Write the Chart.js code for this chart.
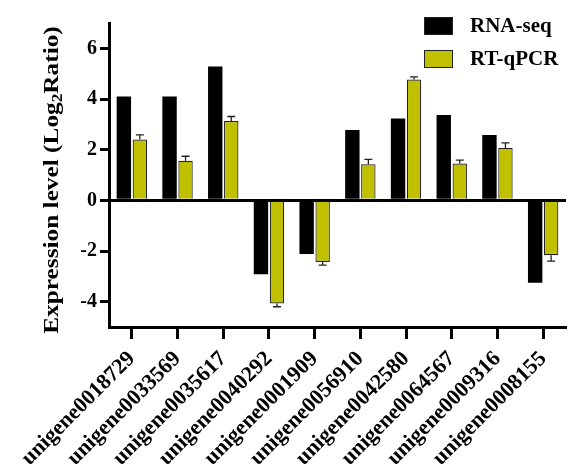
<!DOCTYPE html>
<html>
<head>
<meta charset="utf-8">
<script src="https://cdn.jsdelivr.net/npm/chart.js@4.4.0/dist/chart.umd.min.js"></script>
<style>
  html, body { margin: 0; padding: 0; background: #fff; }
  #wrap { width: 569px; height: 475px; position: relative; }
</style>
</head>
<body>
<div id="wrap"><canvas id="chart" width="569" height="475"></canvas></div>
<script>
'use strict';

var genes = ['unigene0018729', 'unigene0033569', 'unigene0035617', 'unigene0040292', 'unigene0001909',
             'unigene0056910', 'unigene0042580', 'unigene0064567', 'unigene0009316', 'unigene0008155'];
var rnaSeq = [4.1, 4.1, 5.28, -2.92, -2.12, 2.78, 3.23, 3.37, 2.58, -3.25];
var rtqPCR = [2.4, 1.56, 3.13, -4.07, -2.43, 1.42, 4.77, 1.45, 2.07, -2.17];
var rtqPCRErr = [0.18, 0.18, 0.18, 0.13, 0.13, 0.2, 0.1, 0.14, 0.2, 0.23];
var yTicks = [-4, -2, 0, 2, 4, 6];

var serif = "'Liberation Serif', 'Times New Roman', serif";
var olive = '#c0bf00';

// one sided error bars, pointing away from zero
var errorBars = {
    id: 'errorBars',
    afterDatasetsDraw: function(chart) {
        var ctx = chart.ctx,
            y = chart.scales.y,
            meta = chart.getDatasetMeta(1);
        ctx.save();
        ctx.strokeStyle = '#222';
        ctx.lineWidth = 1.3;
        meta.data.forEach(function(bar, i) {
            var v = rtqPCR[i],
                end = v + (v < 0 ? -rtqPCRErr[i] : rtqPCRErr[i]),
                y0 = y.getPixelForValue(v),
                y1 = y.getPixelForValue(end);
            ctx.beginPath();
            ctx.moveTo(bar.x, y0);
            ctx.lineTo(bar.x, y1);
            ctx.moveTo(bar.x - 4, y1);
            ctx.lineTo(bar.x + 4, y1);
            ctx.stroke();
        });
        ctx.restore();
    }
};

// legend and axis title drawn by hand (subscript, placement over the plot)
var decorations = {
    id: 'decorations',
    afterDraw: function(chart) {
        var ctx = chart.ctx;
        ctx.save();

        var items = chart.data.datasets;
        items.forEach(function(ds, i) {
            var top = 17 + i * 33;
            ctx.fillStyle = ds.backgroundColor;
            ctx.fillRect(424, top, 29, 18);
            ctx.lineWidth = 1;
            ctx.strokeStyle = '#222';
            ctx.strokeRect(424.5, top + 0.5, 28, 17);
            ctx.fillStyle = '#000';
            ctx.font = 'bold 21px ' + serif;
            ctx.textBaseline = 'middle';
            ctx.textAlign = 'left';
            ctx.fillText(ds.label, 470, top + 10);
        });

        // title is wider in the original face, so stretch it along its length
        ctx.translate(52, 180);
        ctx.rotate(-Math.PI / 2);
        ctx.scale(1.15, 1);
        var big = 'bold 22px ' + serif,
            small = 'bold 15px ' + serif,
            a = 'Expression level (Log', b = '2', c = 'Ratio)';
        ctx.font = big;
        var wa = ctx.measureText(a).width, wc = ctx.measureText(c).width;
        ctx.font = small;
        var wb = ctx.measureText(b).width;
        var x = -(wa + wb + wc) / 2;
        ctx.fillStyle = '#000';
        ctx.textAlign = 'left';
        ctx.textBaseline = 'middle';
        ctx.font = big;
        ctx.fillText(a, x, 0);
        ctx.font = small;
        ctx.fillText(b, x + wa, 6);
        ctx.font = big;
        ctx.fillText(c, x + wa + wb, 0);
        ctx.restore();
    }
};

new Chart(document.getElementById('chart').getContext('2d'), {
    type: 'bar',
    data: {
        labels: genes,
        datasets: [
            { label: 'RNA-seq', data: rnaSeq, backgroundColor: '#000', borderColor: '#000', borderWidth: 0 },
            { label: 'RT-qPCR', data: rtqPCR, backgroundColor: olive, borderColor: '#222', borderWidth: 1.2 }
        ]
    },
    options: {
        responsive: false,
        animation: false,
        devicePixelRatio: 1,
        datasets: { bar: { categoryPercentage: 0.7, barPercentage: 0.9 } },
        layout: { padding: { top: 23, right: 3, left: 0, bottom: 0 } },
        plugins: { legend: { display: false }, tooltip: { enabled: false } },
        scales: {
            x: {
                grid: { offset: false, drawOnChartArea: false, tickLength: 12, tickWidth: 3, tickColor: '#000' },
                border: { color: '#000', width: 3 },
                ticks: {
                    color: '#000',
                    font: { family: serif, size: 22, weight: 'bold' },
                    minRotation: 45,
                    maxRotation: 45,
                    autoSkip: false,
                    padding: 7
                },
                afterFit: function(s) { s.height = 148; }
            },
            y: {
                min: -5,
                max: 7,
                afterBuildTicks: function(s) {
                    s.ticks = yTicks.map(function(v) { return { value: v }; });
                },
                grid: {
                    color: function(c) { return c.tick && c.tick.value === 0 ? '#000' : 'rgba(0,0,0,0)'; },
                    lineWidth: 3,
                    tickLength: 9,
                    tickWidth: 3,
                    tickColor: '#000'
                },
                border: { color: '#000', width: 3 },
                ticks: {
                    color: '#000',
                    font: { family: serif, size: 20, weight: 'bold' },
                    padding: 3
                },
                afterFit: function(s) { s.width = 109; }
            }
        }
    },
    plugins: [errorBars, decorations]
});
</script>
</body>
</html>
